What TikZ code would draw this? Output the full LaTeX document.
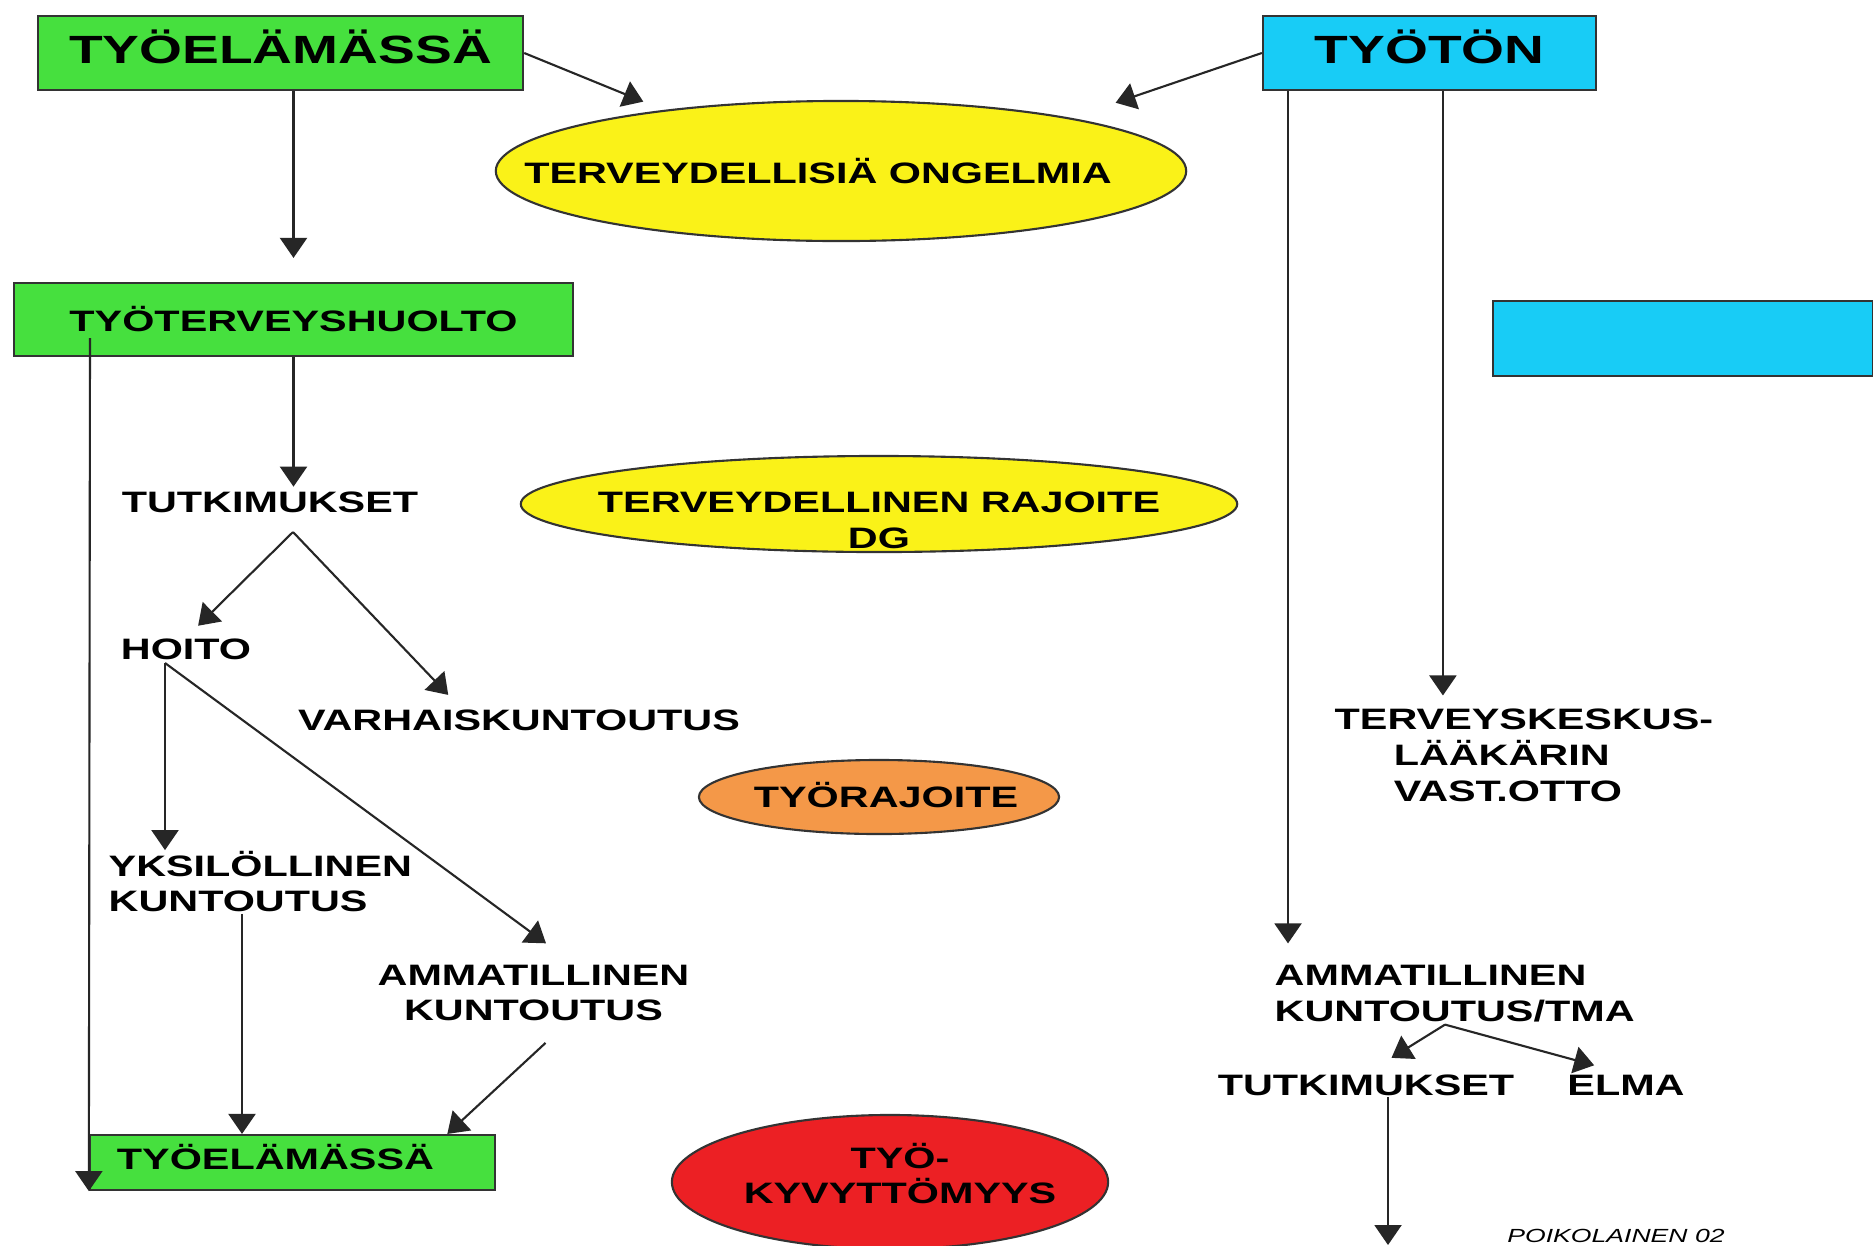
\documentclass[tikz,border=0pt]{standalone}
\usepackage{fontspec}
\setmainfont{Liberation Sans}[FakeStretch=1.4]
\usetikzlibrary{calc,shapes.geometric,arrows.meta}

\definecolor{boxgreen}{RGB}{70,224,62}
\definecolor{boxcyan}{RGB}{24,204,246}
\definecolor{ovalyellow}{RGB}{250,242,24}
\definecolor{ovalorange}{RGB}{244,152,72}
\definecolor{ovalred}{RGB}{236,32,36}

\tikzset{
  box/.style={draw=black!80, line width=0.6pt, inner sep=0pt,
    font=\fontsize{8.4}{10.2}\selectfont\bfseries},
  oval/.style={ellipse, draw=black!80, line width=0.6pt, inner sep=0pt},
  txt/.style={inner sep=0pt, font=\fontsize{8.4}{10.2}\selectfont\bfseries},
  arr/.style={draw=black!85, line width=0.6pt, -{Triangle[length=0.2cm,width=0.27cm]}}
}

\begin{document}
\begin{tikzpicture}[x=0.01cm, y=-0.01cm]
  % Define the page
  \path[use as bounding box, fill=white] (0,0) rectangle (1873,1245);

  % Draw the boxes
  \node[box, fill=boxgreen, minimum width=4.85cm, minimum height=0.74cm, text depth=0.13cm,
    font=\fontsize{11.2}{13}\selectfont\bfseries] (work) at (280.5,53) {TYÖELÄMÄSSÄ};
  \node[box, fill=boxcyan, minimum width=3.33cm, minimum height=0.74cm, text depth=0.13cm,
    font=\fontsize{11.2}{13}\selectfont\bfseries] (jobless) at (1429.5,53) {TYÖTÖN};
  \node[box, fill=boxgreen, minimum width=5.59cm, minimum height=0.73cm] (occhealth) at (293.5,319.5) {TYÖTERVEYSHUOLTO};
  \node[box, fill=boxcyan, minimum width=3.8cm, minimum height=0.75cm] (blank) at (1683,338.5) {};
  \node[box, fill=boxgreen, minimum width=4.05cm, minimum height=0.55cm, text depth=0.12cm] (backtowork) at (292.5,1162.5) {TYÖELÄMÄSSÄ\hspace*{0.34cm}};

  % Draw the ellipses
  \node[oval, fill=ovalyellow, minimum width=6.9cm, minimum height=1.4cm] (problems) at (841,171) {};
  \node[oval, fill=ovalyellow, minimum width=7.16cm, minimum height=0.96cm] (limit) at (879,504) {};
  \node[oval, fill=ovalorange, minimum width=3.6cm, minimum height=0.74cm] (worklimit) at (879,797) {};
  \node[oval, fill=ovalred, minimum width=4.36cm, minimum height=1.34cm] (disability) at (890,1182) {};

  % Label the ellipses
  \node[txt] (problemslbl) at (problems) {TERVEYDELLISIÄ ONGELMIA\hspace*{0.46cm}};
  \node[txt, align=center] (limitlbl) at (879,520) {TERVEYDELLINEN RAJOITE\\DG};
  \node[txt, anchor=base] (worklimitlbl) at (886,807) {TYÖRAJOITE};
  \node[txt, align=center] (disabilitylbl) at (900,1173.5) {TYÖ-\\KYVYTTÖMYYS};

  % Place the plain texts
  \node[txt, anchor=base] (research) at (270,512) {TUTKIMUKSET};
  \node[txt, anchor=base] (care) at (186,659) {HOITO};
  \node[txt, anchor=base] (earlyrehab) at (519,730) {VARHAISKUNTOUTUS};
  \node[txt, align=left, anchor=west] (personal) at (108,881.5) {YKSILÖLLINEN\\KUNTOUTUS};
  \node[txt, align=center] (vocational) at (533.5,993) {AMMATILLINEN\\KUNTOUTUS};
  \node[txt, align=left, anchor=west] (healthcentre) at (1334,755.5)
    {TERVEYSKESKUS-\\\hspace*{0.59cm}LÄÄKÄRIN\\\hspace*{0.59cm}VAST.OTTO};
  \node[txt, align=left, anchor=west] (vocationaltma) at (1274,993.5) {AMMATILLINEN\\KUNTOUTUS/TMA};
  \node[txt, anchor=base] (research2) at (1366,1095) {TUTKIMUKSET};
  \node[txt, anchor=base] (elma) at (1626,1095) {ELMA};
  \node[inner sep=0pt, anchor=north, font=\fontsize{5.4}{6}\selectfont\itshape] (author) at (1616,1229) {POIKOLAINEN 02};

  % Define the branching points
  \coordinate (drop) at (90,338);
  \coordinate (fork1) at ($(research.base)+(23,20)$);
  \coordinate (fork2) at ($(care.base)+(-21,4)$);
  \coordinate (personalfoot) at ($(personal.south west)+(134,1)$);
  \coordinate (vocfoot) at ($(vocational.south)+(12,21)$);
  \coordinate (joblessleft) at ($(jobless.south west)!0.078!(jobless.south east)$);
  \coordinate (joblessright) at ($(jobless.south west)!0.54!(jobless.south east)$);
  \coordinate (tmafork) at ($(vocationaltma.south west)+(171,2)$);
  \coordinate (research2foot) at ($(research2.base)+(22,2)$);
  \coordinate (exit) at (1388,1245);

  % Draw the arrows of the working side
  \draw[arr, shorten >=0.22cm] (work.east) -- (problems.161);
  \draw[arr, shorten >=0.24cm] (work.south -| occhealth.north) -- (occhealth.north);
  \draw[arr, shorten >=0.04cm] (occhealth.south) -- (occhealth.south |- research.north);
  \draw[arr] (drop) -- (backtowork.south west);
  \draw[arr, shorten >=0.17cm] (fork1) -- (care.north);
  \draw[arr, shorten >=0.19cm] (fork1) -- ($(earlyrehab.north west)!0.37!(earlyrehab.north east)$);
  \draw[arr] (fork2) -- (fork2 |- personal.north);
  \draw[arr, shorten >=0.35cm] (fork2) -- ($(vocational.north west)!0.63!(vocational.north east)$);
  \draw[arr] (personalfoot) -- (personalfoot |- backtowork.north);
  \draw[arr] (vocfoot) -- ($(backtowork.north west)!0.88!(backtowork.north east)$);

  % Draw the arrows of the unemployed side
  \draw[arr, shorten >=0.47cm] (jobless.west) -- (problems.13);
  \draw[arr, shorten >=0.21cm] (joblessleft) -- (joblessleft |- vocationaltma.north);
  \draw[arr, shorten >=0.13cm] (joblessright) -- (joblessright |- healthcentre.north);
  \foreach \target/\gap in {research2.north/0.3cm, elma.north/0.33cm} {
    \draw[arr, shorten >=\gap] (tmafork) -- (\target);
  }
  \draw[arr] (research2foot) -- (exit);

\end{tikzpicture}
\end{document}
